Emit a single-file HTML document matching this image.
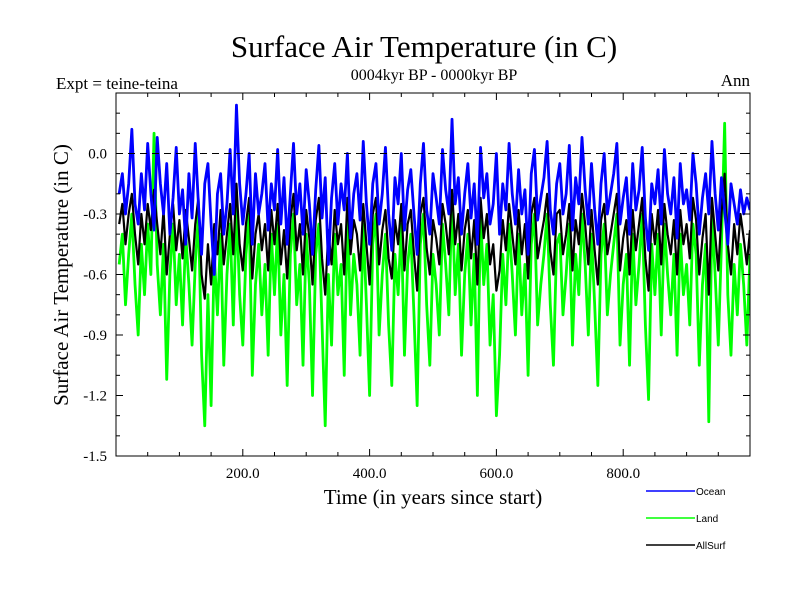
<!DOCTYPE html>
<html><head><meta charset="utf-8"><style>
body{margin:0;background:#fff;}
svg{display:block;font-family:"Liberation Serif",serif;}
</style></head><body>
<svg id="chart" width="800" height="600">
<text x="424" y="57" font-size="31" text-anchor="middle">Surface Air Temperature (in C)</text>
<text x="56" y="89" font-size="17">Expt = teine-teina</text>
<text x="434" y="80" font-size="16" text-anchor="middle">0004kyr BP - 0000kyr BP</text>
<text x="750" y="86" font-size="17" text-anchor="end">Ann</text>
<text x="433" y="504" font-size="21" text-anchor="middle">Time (in years since start)</text>
<text transform="translate(68,275) rotate(-90)" font-size="21" text-anchor="middle">Surface Air Temperature (in C)</text>
<defs><clipPath id="clip"><rect x="116" y="93" width="634" height="363"/></clipPath></defs>
<g id="series" clip-path="url(#clip)"></g>
<g id="axes"></g>
<g font-family="Liberation Sans,sans-serif" font-size="10">
<line x1="646" y1="491" x2="695" y2="491" stroke="#0000ff" stroke-width="1.5"/>
<text x="696" y="495">Ocean</text>
<line x1="646" y1="518" x2="695" y2="518" stroke="#00ff00" stroke-width="1.5"/>
<text x="696" y="522">Land</text>
<line x1="646" y1="545" x2="695" y2="545" stroke="#000" stroke-width="1.5"/>
<text x="696" y="549">AllSurf</text>
</g>
</svg>
<script>
const yearStep = 5;
const xTickLabels = ["200.0","400.0","600.0","800.0"];
const xTickValues = [200,400,600,800];
const yTickValues = [0.0,-0.3,-0.6,-0.9,-1.2,-1.5];
const yTickLabels = ["0.0","-0.3","-0.6","-0.9","-1.2","-1.5"];
const ocean = [
-0.20,-0.10,-0.30,-0.15,0.12,-0.25,-0.35,-0.10,-0.28,0.05,
-0.20,-0.38,0.08,-0.15,-0.30,-0.05,-0.40,-0.22,0.03,-0.30,
-0.18,-0.45,-0.10,-0.32,0.05,-0.25,-0.50,-0.15,-0.05,-0.35,
-0.60,-0.20,-0.10,-0.40,-0.25,0.02,-0.30,0.24,-0.15,-0.35,
-0.20,0.00,-0.45,-0.10,-0.30,-0.20,-0.05,-0.38,-0.15,-0.28,
0.02,-0.35,-0.12,-0.45,-0.20,0.05,-0.30,-0.15,-0.40,-0.08,
-0.25,-0.50,-0.18,0.04,-0.32,-0.12,-0.55,-0.22,-0.05,-0.35,
-0.15,-0.28,0.00,-0.42,-0.20,-0.10,-0.33,0.06,-0.25,-0.45,
-0.15,-0.05,-0.35,-0.20,0.03,-0.30,-0.48,-0.12,-0.25,0.00,
-0.38,-0.18,-0.08,-0.30,-0.50,-0.15,0.05,-0.28,-0.40,-0.10,
-0.22,-0.35,0.02,-0.18,-0.30,0.17,-0.25,-0.12,-0.40,-0.20,
-0.05,-0.32,-0.15,-0.45,0.03,-0.22,-0.10,-0.35,-0.25,0.00,
-0.40,-0.15,-0.28,0.05,-0.20,-0.35,-0.08,-0.30,-0.18,-0.50,
-0.10,0.02,-0.33,-0.22,-0.12,0.06,-0.28,-0.40,-0.15,-0.05,
-0.30,-0.20,0.04,-0.38,-0.12,-0.25,0.08,-0.18,-0.35,-0.05,
-0.28,-0.45,-0.15,0.00,-0.30,-0.20,-0.10,0.05,-0.35,-0.22,
-0.12,-0.40,-0.05,-0.28,-0.18,0.03,-0.32,-0.48,-0.15,-0.25,
-0.08,-0.35,0.02,-0.20,-0.30,-0.12,-0.42,-0.05,-0.25,-0.18,
-0.33,0.00,-0.15,-0.40,-0.22,-0.10,-0.30,0.06,-0.20,-0.38,
-0.12,-0.28,-0.45,-0.15,-0.25,-0.35,-0.18,-0.30,-0.22,-0.28];
const land = [
-0.55,-0.40,-0.75,-0.50,-0.30,-0.65,-0.90,-0.45,-0.70,-0.35,
-0.60,0.10,-0.55,-0.80,-0.45,-1.12,-0.60,-0.35,-0.75,-0.50,
-0.85,-0.40,-0.65,-0.95,-0.55,-0.30,-1.00,-1.35,-0.70,-1.25,
-0.50,-0.80,-0.40,-1.05,-0.60,-0.35,-0.85,-0.25,-0.70,-0.95,
-0.50,-0.30,-1.10,-0.65,-0.45,-0.80,-0.55,-1.00,-0.40,-0.70,
-0.35,-0.90,-0.60,-1.15,-0.50,-0.30,-0.75,-0.55,-1.05,-0.40,
-0.65,-1.20,-0.50,-0.35,-0.85,-1.35,-0.60,-0.95,-0.40,-0.70,
-0.55,-1.10,-0.30,-0.80,-0.50,-0.65,-1.00,-0.35,-0.75,-1.20,
-0.45,-0.30,-0.90,-0.60,-0.40,-0.85,-1.15,-0.50,-0.70,-0.35,
-1.00,-0.55,-0.40,-0.80,-1.25,-0.45,-0.30,-0.75,-1.05,-0.50,
-0.65,-0.90,-0.35,-0.55,-0.80,-0.20,-0.70,-0.45,-1.00,-0.60,
-0.40,-0.85,-0.50,-1.20,-0.30,-0.65,-0.45,-0.95,-0.70,-1.30,
-1.00,-0.50,-0.75,-0.35,-0.60,-0.90,-0.40,-0.80,-0.55,-1.10,
-0.45,-0.30,-0.85,-0.65,-0.50,-0.30,-0.75,-1.05,-0.45,-0.40,
-0.80,-0.60,-0.35,-0.95,-0.50,-0.70,-0.30,-0.55,-0.90,-0.40,
-0.75,-1.15,-0.50,-0.35,-0.80,-0.60,-0.45,-0.30,-0.95,-0.65,
-0.50,-1.05,-0.40,-0.75,-0.55,-0.30,-0.85,-1.22,-0.45,-0.70,
-0.40,-0.90,-0.35,-0.60,-0.80,-0.50,-1.00,-0.40,-0.70,-0.55,
-0.85,-0.35,-0.50,-1.05,-0.65,-0.45,-1.33,-0.30,-0.60,-0.95,
-0.45,0.15,-0.70,-1.00,-0.55,-0.80,-0.45,-0.65,-0.95,-0.50];
const allSurf = [
-0.35,-0.25,-0.45,-0.30,-0.20,-0.40,-0.55,-0.30,-0.45,-0.25,
-0.38,-0.18,-0.35,-0.50,-0.28,-0.60,-0.40,-0.25,-0.48,-0.33,
-0.52,-0.28,-0.42,-0.58,-0.35,-0.22,-0.60,-0.72,-0.45,-0.65,
-0.35,-0.50,-0.28,-0.55,-0.40,-0.25,-0.50,-0.15,-0.45,-0.58,
-0.35,-0.22,-0.62,-0.40,-0.30,-0.48,-0.35,-0.58,-0.28,-0.45,
-0.25,-0.55,-0.38,-0.62,-0.33,-0.20,-0.48,-0.35,-0.60,-0.28,
-0.42,-0.65,-0.33,-0.22,-0.52,-0.70,-0.38,-0.55,-0.28,-0.45,
-0.35,-0.60,-0.22,-0.50,-0.33,-0.40,-0.58,-0.25,-0.45,-0.65,
-0.30,-0.22,-0.55,-0.38,-0.28,-0.52,-0.62,-0.33,-0.45,-0.25,
-0.58,-0.35,-0.28,-0.50,-0.68,-0.30,-0.22,-0.47,-0.60,-0.33,
-0.42,-0.55,-0.25,-0.35,-0.50,-0.18,-0.45,-0.30,-0.58,-0.38,
-0.28,-0.52,-0.33,-0.65,-0.22,-0.42,-0.30,-0.55,-0.45,-0.68,
-0.58,-0.33,-0.48,-0.25,-0.40,-0.55,-0.28,-0.50,-0.35,-0.62,
-0.30,-0.22,-0.52,-0.42,-0.33,-0.20,-0.48,-0.60,-0.30,-0.28,
-0.50,-0.40,-0.25,-0.58,-0.33,-0.45,-0.20,-0.35,-0.55,-0.28,
-0.48,-0.65,-0.33,-0.25,-0.50,-0.40,-0.30,-0.20,-0.58,-0.42,
-0.33,-0.60,-0.28,-0.48,-0.35,-0.22,-0.52,-0.68,-0.30,-0.45,
-0.28,-0.55,-0.25,-0.40,-0.50,-0.33,-0.60,-0.28,-0.45,-0.35,
-0.52,-0.22,-0.33,-0.60,-0.42,-0.30,-0.70,-0.22,-0.40,-0.58,
-0.30,-0.10,-0.45,-0.60,-0.35,-0.50,-0.30,-0.42,-0.55,-0.38];

const X0=116, X1=750, Y0=93, Y1=456;
const xDomain=[0,1000], yDomain=[0.3,-1.5];
function xs(v){return X0+(v-xDomain[0])/(xDomain[1]-xDomain[0])*(X1-X0);}
function ys(v){return Y0+(v-yDomain[0])/(yDomain[1]-yDomain[0])*(Y1-Y0);}
const NS="http://www.w3.org/2000/svg";
const sg=document.getElementById('series'), ax=document.getElementById('axes');
function mk(tag,attrs,parent){const e=document.createElementNS(NS,tag);for(const k in attrs)e.setAttribute(k,attrs[k]);parent.appendChild(e);return e;}

function drawSeries(arr,color,w,name){
  const d=arr.map((v,i)=>(i?'L':'M')+xs((i+1)*yearStep).toFixed(2)+','+ys(v).toFixed(2)).join('');
  const p=mk('path',{d:d,fill:'none',stroke:color,'stroke-width':w,'stroke-linejoin':'round'},sg);
  
  
}
drawSeries(land,'#00ff00',2.8,'land-line');
drawSeries(allSurf,'#000000',2.2,'allsurf-line');
drawSeries(ocean,'#0000ff',2.8,'ocean-line');

const zl=mk('line',{x1:X0,x2:X1,y1:ys(0),y2:ys(0),stroke:'#000','stroke-width':1,'stroke-dasharray':'7,5'},ax);


const fr=mk('rect',{x:X0,y:Y0,width:X1-X0,height:Y1-Y0,fill:'none',stroke:'#000','stroke-width':1},ax);



for(let v=50;v<1000;v+=50){
  const major=v%200===0, len=major?7:4;
  [[Y1,Y1-len],[Y0,Y0+len]].forEach(([a,b])=>{
    const t=mk('line',{x1:xs(v),x2:xs(v),y1:a,y2:b,stroke:'#000','stroke-width':1},ax);
    
    
  });
}
xTickValues.forEach((v,i)=>{
  const t=mk('text',{x:xs(v),y:478,'font-size':15,'text-anchor':'middle'},ax);
  t.textContent=xTickLabels[i];
  
  
});
for(let k=-15;k<=3;k++){
  const v=k/10, major=k%3===0, len=major?7:4;
  [[X0,X0+len],[X1,X1-len]].forEach(([a,b])=>{
    const t=mk('line',{x1:a,x2:b,y1:ys(v),y2:ys(v),stroke:'#000','stroke-width':1},ax);
    
    
  });
}
yTickValues.forEach((v,i)=>{
  const t=mk('text',{x:107,y:ys(v)+5,'font-size':15,'text-anchor':'end'},ax);
  t.textContent=yTickLabels[i];
  
  
});
</script>
</body></html>
